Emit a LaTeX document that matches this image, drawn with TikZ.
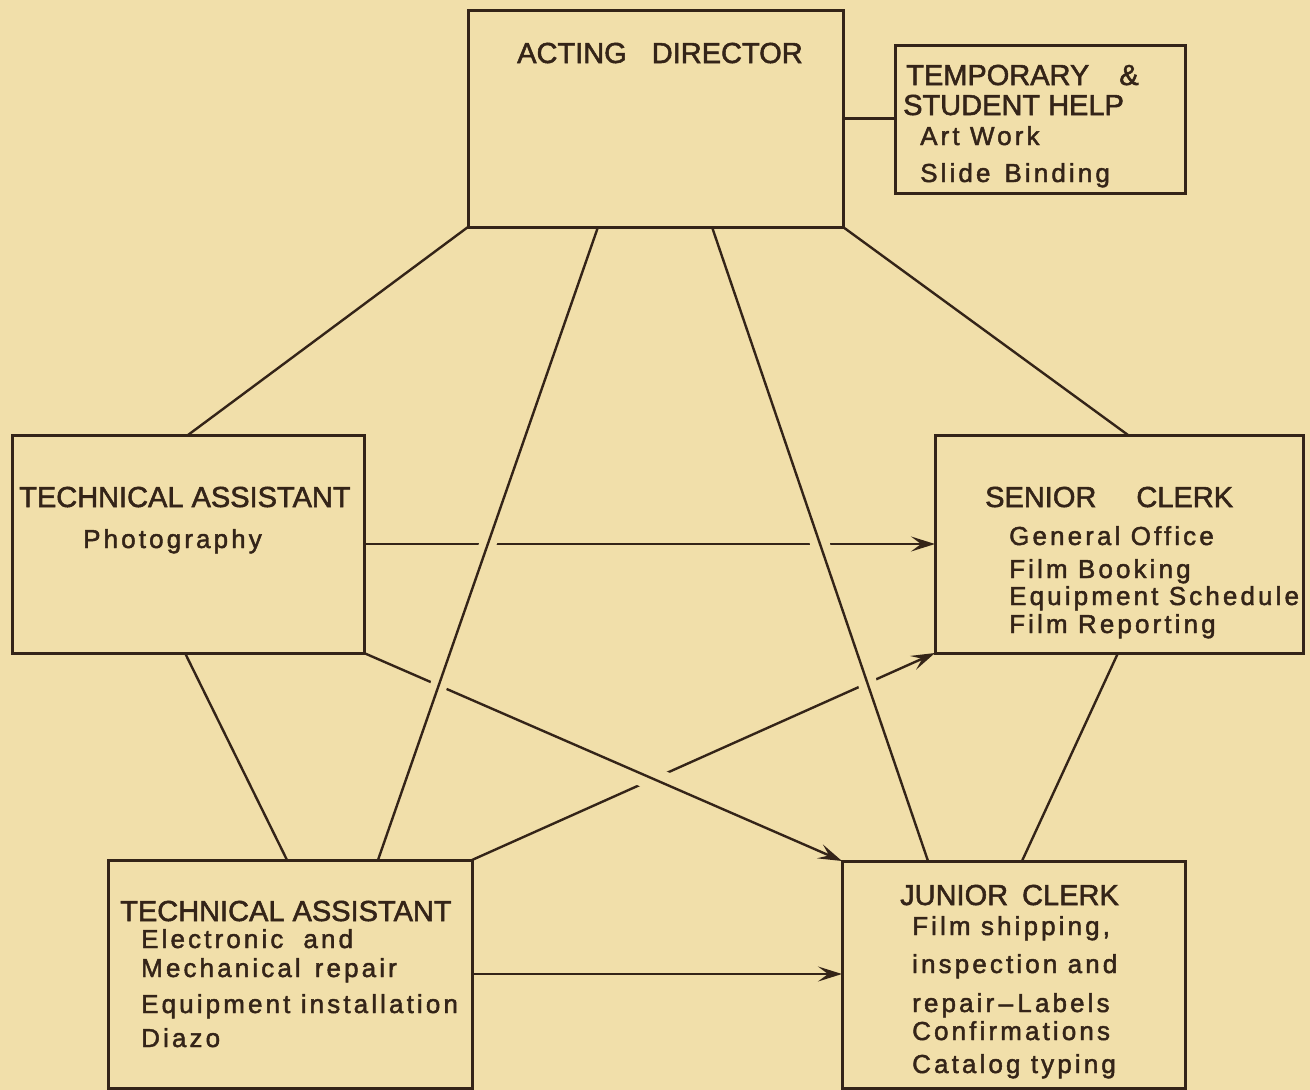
\documentclass[tikz,border=0pt]{standalone}
\usepackage{fontspec}
\setmainfont{Liberation Sans}
\newfontfamily\headfont[FakeBold=1.8]{Liberation Sans}
\newfontfamily\spacedfont[LetterSpace=12,FakeBold=1.8]{Liberation Sans}
\usetikzlibrary{arrows.meta}
\definecolor{paper}{RGB}{241,223,170}
\definecolor{ink}{RGB}{52,36,24}

\tikzset{
  frame/.style={rectangle, draw=none, inner sep=0pt, outer sep=0pt},
  boxline/.style={draw=ink, line width=3pt, line join=miter},
  link/.style={draw=ink, line width=2.4pt},
  arr/.style={link, -{Stealth[length=24pt,width=15pt,inset=10pt]}},
  halo/.style={preaction={draw=paper, line width=#1, -}},
  head/.style={anchor=base west, text=ink, inner sep=0pt,
    font=\headfont\fontsize{29}{34}\selectfont},
  item/.style={anchor=base west, text=ink, inner sep=0pt,
    font=\spacedfont\fontsize{26}{30}\selectfont},
}

\begin{document}
\begin{tikzpicture}[x=1pt,y=-1pt]
\fill[paper] (0,0) rectangle (1310,1090);
\useasboundingbox (0,0) rectangle (1310,1090);

% positions (and sizes) of the six boxes
\node[frame, minimum width=375, minimum height=217] (ad)  at (655.5,118.5) {};
\node[frame, minimum width=290, minimum height=148] (tmp) at (1040,119) {};
\node[frame, minimum width=352, minimum height=218] (tap) at (188,544) {};
\node[frame, minimum width=368, minimum height=218] (sc)  at (1119,544) {};
\node[frame, minimum width=364, minimum height=228] (tae) at (290,974) {};
\node[frame, minimum width=343, minimum height=227] (jc)  at (1013.5,974.5) {};

% plain connectors
\draw[link] (ad.east) -- (ad.east -| tmp.west);
\draw[link] (ad.south west) -- (tap.north);
\draw[link] (ad.south east) -- ([xshift=9]sc.north);
\draw[link] ([xshift=173]tap.south west) -- ([xshift=179]tae.north west);
\draw[link] ([xshift=-185]sc.south east) -- ([xshift=180]jc.north west);
\draw[arr] (tae.east) -- (tae.east -| jc.west);

% crossing connectors, later ones break the earlier ones
\draw[arr] (tae.north east) -- (sc.south west);
\draw[arr, halo=24pt] (tap.south east) -- (jc.north west);
\draw[arr] (tap.east) -- (tap.east -| sc.west);
\draw[link, halo=17pt] ([xshift=130]ad.south west) -- ([xshift=270]tae.north west);
\draw[link, halo=19pt] ([xshift=244]ad.south west) -- ([xshift=86]jc.north west);

% box outlines
\foreach \n in {ad,tmp,tap,sc,tae,jc}
  \draw[boxline] (\n.north west) rectangle (\n.south east);

% texts
\node[head] (ad-1) at (517,63) {ACTING\hspace{25pt}DIRECTOR};

\node[head] (tmp-1) at (906,85) {TEMPORARY\hspace{30pt}\&};
\node[head] (tmp-2) at (903,115) {STUDENT HELP};
\node[item] (tmp-3) at (920,145) {Art Work};
\node[item] (tmp-4) at (920,182) {Slide\hspace{14pt}Binding};

\node[head] (tap-1) at (19,507) {TECHNICAL ASSISTANT};
\node[item] (tap-2) at (83,548) {Photography};

\node[head] (sc-1) at (985,507) {SENIOR\hspace{40pt}CLERK};
\node[item] (sc-2) at (1009,545) {General Office};
\node[item] (sc-3) at (1009,578) {Film Booking};
\node[item] (sc-4) at (1009,605) {Equipment Schedule};
\node[item] (sc-5) at (1009,633) {Film Reporting};

\node[head] (tae-1) at (120,921) {TECHNICAL ASSISTANT};
\node[item] (tae-2) at (141,948) {Electronic\hspace{20pt}and};
\node[item] (tae-3) at (141,977) {Mechanical\hspace{14pt}repair};
\node[item] (tae-4) at (141,1013) {Equipment installation};
\node[item] (tae-5) at (141,1047) {Diazo};

\node[head] (jc-1) at (900,905) {JUNIOR\hspace{14pt}CLERK};
\node[item] (jc-2) at (912,935) {Film shipping,};
\node[item] (jc-3) at (912,973) {inspection and};
\node[item] (jc-4) at (912,1012) {repair\,–\,Labels};
\node[item] (jc-5) at (912,1040) {Confirmations};
\node[item] (jc-6) at (912,1073) {Catalog typing};
\end{tikzpicture}
\end{document}
